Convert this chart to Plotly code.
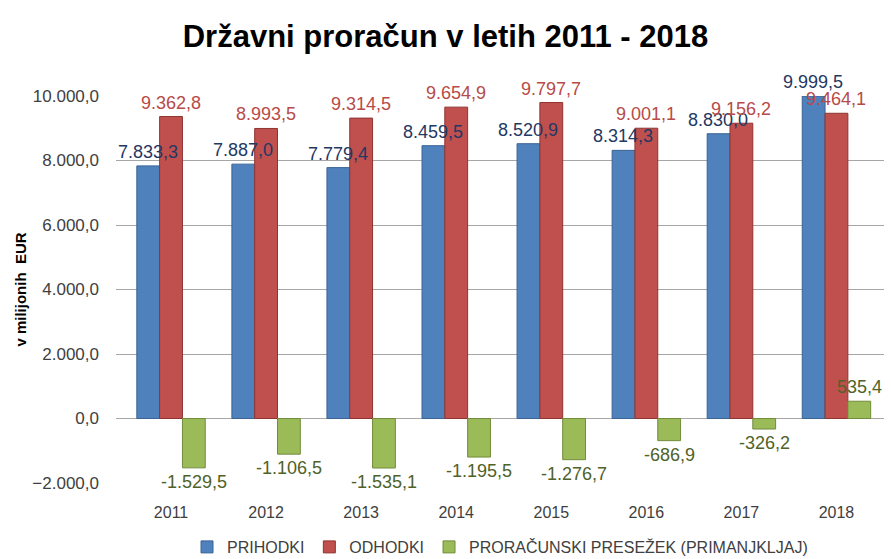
import plotly.graph_objects as go

years = ["2011", "2012", "2013", "2014", "2015", "2016", "2017", "2018"]
prihodki = [7833.3, 7887.0, 7779.4, 8459.5, 8520.9, 8314.3, 8830.0, 9999.5]
odhodki = [9362.8, 8993.5, 9314.5, 9654.9, 9797.7, 9001.1, 9156.2, 9464.1]
presezek = [-1529.5, -1106.5, -1535.1, -1195.5, -1276.7, -686.9, -326.2, 535.4]
tick_vals = [-2000, 0, 2000, 4000, 6000, 8000, 10000]

FONT = "Liberation Sans, Arial"
W, H = 891, 559
ML, MR, MT, MB = 116, 7, 96, 76
BARGAP = 0.28

series = [
    ("PRIHODKI", prihodki, "#4F81BD", "#3A6496", "#1F3864"),
    ("ODHODKI", odhodki, "#C0504D", "#8E3431", "#B84A47"),
    ("PRORAČUNSKI PRESEŽEK (PRIMANJKLJAJ)", presezek, "#9BBB59", "#718C3A", "#4F6228"),
]

fig = go.Figure()
for name, vals, col, edge, _ in series:
    fig.add_trace(go.Bar(
        x=years, y=vals, name=name,
        marker=dict(color=col, line=dict(color=edge, width=1)),
    ))

# data labels as annotations so they sit above all bars
cat_px = (W - ML - MR) / len(years)
bar_px = cat_px * (1 - BARGAP) / len(series)
for i, (name, vals, col, edge, tcol) in enumerate(series):
    shift = (i - 1) * bar_px
    for j, v in enumerate(vals):
        fig.add_annotation(
            x=j, y=v, xref="x", yref="y", xshift=shift,
            text=f"{v:,.1f}".replace(",", "X").replace(".", ",").replace("X", "."),
            showarrow=False, yanchor="bottom" if v >= 0 else "top",
            yshift=2 if v >= 0 else -2,
            font=dict(size=18, color=tcol, family=FONT),
        )

fig.update_layout(
    width=W, height=H,
    separators=",.",
    barmode="group", bargap=BARGAP, bargroupgap=0.0,
    paper_bgcolor="white", plot_bgcolor="white",
    title=dict(text="<b>Državni proračun v letih 2011 - 2018</b>",
               x=0.5, xanchor="center", y=1 - 36 / H, yanchor="middle",
               font=dict(size=31, color="black", family=FONT)),
    margin=dict(l=ML, r=MR, t=MT, b=MB, autoexpand=False),
    font=dict(family=FONT, size=17, color="#404040"),
    yaxis=dict(range=[-2000, 10000], tickvals=tick_vals, tickformat=",.1f",
               gridcolor="#A6A6A6", gridwidth=1, zeroline=True,
               zerolinecolor="#A6A6A6", zerolinewidth=1,
               showline=False, ticks="", ticklabelstandoff=16,
               tickfont=dict(size=17, color="#404040"),
               title=dict(text="<b>v milijonih  EUR</b>", standoff=2,
                          font=dict(size=15, color="black", family=FONT))),
    xaxis=dict(type="category", showline=False, ticks="",
               tickfont=dict(size=16, color="#404040"),
               showgrid=False, ticklabelstandoff=18),
    legend=dict(orientation="h", x=0.5, xanchor="center",
                yref="container", y=(H - 547) / H, yanchor="middle",
                font=dict(size=16, color="#404040"), itemwidth=30),
)
fig.update_xaxes(automargin=False)
fig.update_yaxes(automargin=False)
fig.write_html("out.html", config={"displayModeBar": False},
               post_script="document.body.style.margin='0px';")
